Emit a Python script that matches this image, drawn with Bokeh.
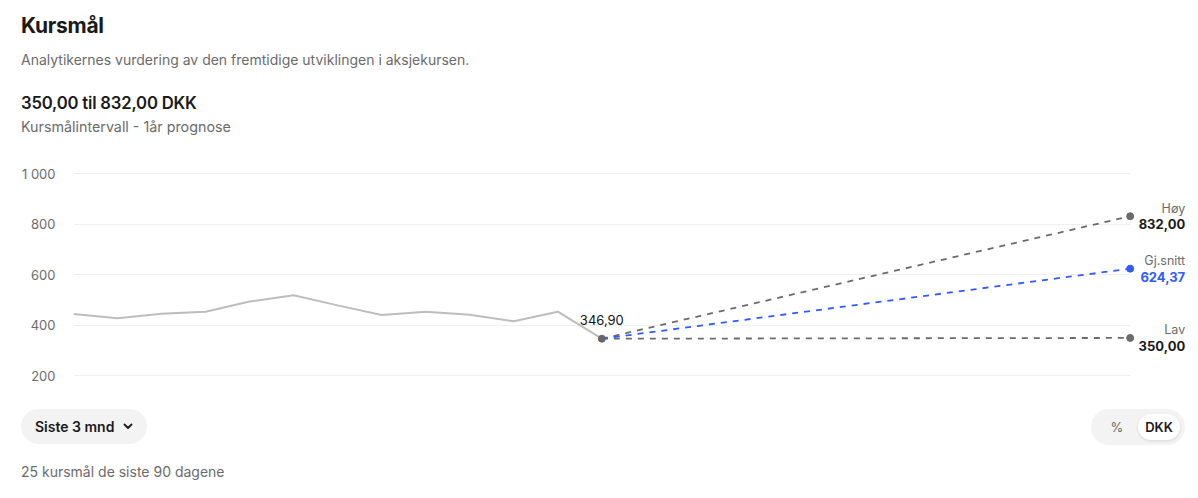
from bokeh.plotting import figure
from bokeh.models import (Range1d, FixedTicker, CustomJSTickFormatter, Label, Div)
from bokeh.layouts import column
from bokeh.embed import file_html
from bokeh.resources import INLINE

# ---------------- data ----------------
hist_x = list(range(13))
hist_price = [445, 428, 446, 454, 494, 519, 479, 441, 454, 442, 416, 454, 346.90]
forecast_x = 24
target_names = ["Høy", "Gj.snitt", "Lav"]
target_values = [832.00, 624.37, 350.00]
y_ticks = [200, 400, 600, 800, 1000]

title_text = "Kursmål"
subtitle_text = "Analytikernes vurdering av den fremtidige utviklingen i aksjekursen."
range_text = "350,00 til 832,00 DKK"
range_sub_text = "Kursmålintervall - 1år prognose"
period_text = "Siste 3 mnd"
count_text = "25 kursmål de siste 90 dagene"

# ---------------- style ----------------
FONT = "Inter"
DARK = "#1a1a1a"
GREY = "#6b6b6b"
BLUE = "#2f5bff"
line_colors = {"Høy": "#6b6b6b", "Gj.snitt": BLUE, "Lav": "#6b6b6b"}
val_colors = {"Høy": DARK, "Gj.snitt": BLUE, "Lav": DARK}


def fmt(v):
    return f"{v:.2f}".replace(".", ",")


# ---------------- header ----------------
header = Div(width=1190, height=150, margin=(0, 0, 0, 0), text=f"""
<div style="position:relative;width:1190px;height:150px;font-family:{FONT},sans-serif;">
  <div style="position:absolute;left:21px;top:13px;font-size:21px;line-height:26px;font-weight:700;color:{DARK};letter-spacing:-0.3px;">{title_text}</div>
  <div style="position:absolute;left:21px;top:50px;font-size:14px;line-height:20px;color:{GREY};">{subtitle_text}</div>
  <div style="position:absolute;left:21px;top:92px;font-size:16.7px;line-height:22px;font-weight:600;color:{DARK};letter-spacing:-0.2px;">{range_text}</div>
  <div style="position:absolute;left:21px;top:117px;font-size:14.3px;line-height:20px;color:{GREY};">{range_sub_text}</div>
</div>""")

# ---------------- chart ----------------
# frame runs to the right edge so the end labels have room; px/unit kept at ~44
X_END = 25.37
p = figure(width=1190, height=245, output_backend="svg", toolbar_location=None,
           x_axis_type=None, x_range=Range1d(0, X_END), y_range=Range1d(122, 1052.7),
           min_border_left=73, min_border_right=0, min_border_top=10, min_border_bottom=0,
           margin=(0, 0, 0, 0))
p.outline_line_color = None
p.background_fill_color = "white"
p.border_fill_color = "white"
p.xgrid.visible = False
p.ygrid.grid_line_color = "#efefef"
p.ygrid.grid_line_width = 1

ax = p.yaxis[0]
ax.ticker = FixedTicker(ticks=y_ticks)
ax.formatter = CustomJSTickFormatter(code="""
const s = Math.round(tick).toString();
return s.replace(/\\B(?=(\\d{3})+(?!\\d))/g, ' ');
""")
ax.axis_line_color = None
ax.major_tick_line_color = None
ax.minor_tick_line_color = None
ax.major_tick_out = 0
ax.major_tick_in = 0
ax.major_label_standoff = 18
ax.major_label_text_font = FONT
ax.major_label_text_font_size = "13px"
ax.major_label_text_color = GREY

# white area beyond the forecast horizon (grid lines stop at the end points)
p.block(x=[forecast_x], y=[p.y_range.start], width=X_END - forecast_x + 1,
        height=p.y_range.end - p.y_range.start, fill_color="white", line_color=None)

# history line
p.line(hist_x, hist_price, line_color="#bdbdbd", line_width=2)

# forecast lines (grey first, blue on top)
order = sorted(range(len(target_names)), key=lambda i: target_names[i] == "Gj.snitt")
for i in order:
    n = target_names[i]
    p.line([hist_x[-1], forecast_x], [hist_price[-1], target_values[i]],
           line_color=line_colors[n], line_width=1.8, line_dash="6 6")

# points
p.scatter([hist_x[-1]], [hist_price[-1]], size=7, color="#666666")
p.scatter([forecast_x] * len(target_values), target_values, size=7,
          color=[line_colors[n] for n in target_names])

# end labels
for n, v in zip(target_names, target_values):
    p.add_layout(Label(x=forecast_x, y=v, text=n, x_offset=55, y_offset=8,
                       text_align="right", text_baseline="middle", text_color=GREY,
                       text_font=FONT, text_font_size="12.5px"))
    p.add_layout(Label(x=forecast_x, y=v, text=fmt(v), x_offset=55, y_offset=-8,
                       text_align="right", text_baseline="middle", text_color=val_colors[n],
                       text_font=FONT, text_font_size="13px", text_font_style="bold"))

p.add_layout(Label(x=hist_x[-1], y=hist_price[-1], text=fmt(hist_price[-1]), y_offset=19,
                   text_align="center", text_baseline="middle", text_color="#111111",
                   text_font=FONT, text_font_size="13px"))

# ---------------- footer ----------------
chev = ('<svg width="10" height="7" viewBox="0 0 10 7" style="margin-left:9px;">'
        f'<path d="M1.5 1.5 L5 5 L8.5 1.5" stroke="{DARK}" stroke-width="1.8" fill="none" '
        'stroke-linecap="round" stroke-linejoin="round"/></svg>')
footer = Div(width=1190, height=95, margin=(0, 0, 0, 0), text=f"""
<div style="position:relative;width:1190px;height:95px;font-family:{FONT},sans-serif;">
  <div style="position:absolute;left:21px;top:14px;width:126px;height:35px;border-radius:18px;background:#f3f3f3;
              display:flex;align-items:center;box-sizing:border-box;padding-left:14px;font-size:14px;font-weight:600;color:{DARK};">
    {period_text}{chev}
  </div>
  <div style="position:absolute;left:21px;top:67px;font-size:14px;line-height:20px;color:{GREY};">{count_text}</div>
  <div style="position:absolute;left:1091px;top:14px;width:94px;height:36px;border-radius:18px;background:#f3f3f3;">
    <div style="position:absolute;left:18px;top:0;height:36px;width:16px;display:flex;align-items:center;justify-content:center;font-size:13px;color:{GREY};">%</div>
    <div style="position:absolute;left:47px;top:5px;width:42px;height:26px;border-radius:13px;background:white;
                box-shadow:0 1px 3px rgba(0,0,0,0.12);display:flex;align-items:center;justify-content:center;font-size:13px;font-weight:600;color:{DARK};">DKK</div>
  </div>
</div>""")

layout = column(header, p, footer, spacing=0)
open("out.html", "w").write(file_html(layout, INLINE))
